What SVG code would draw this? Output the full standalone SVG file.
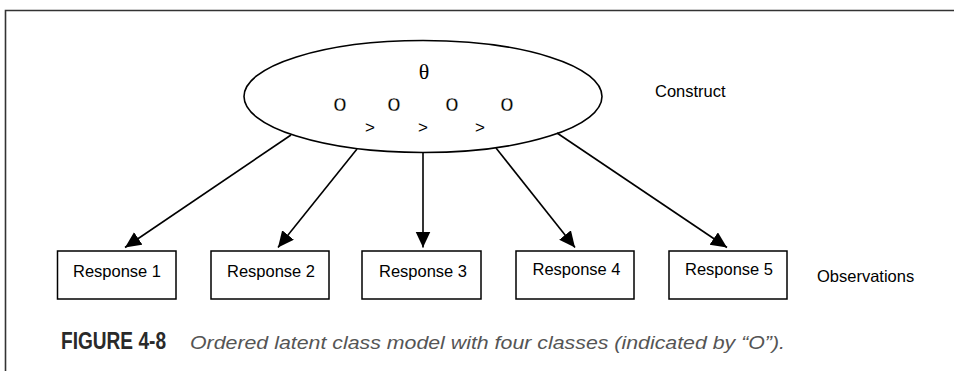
<svg xmlns="http://www.w3.org/2000/svg" width="954" height="371" viewBox="0 0 954 371">
<style>
.box{fill:#fff;stroke:#000;stroke-width:1.5}
.lbl{font-family:"Liberation Sans",Arial,sans-serif;font-size:16.5px;fill:#000}
.edge{stroke:#000;stroke-width:1.6;fill:none;marker-end:url(#ah)}
.cls{font-family:"Liberation Sans",Arial,sans-serif;font-size:24px;text-anchor:middle;fill:#000;stroke:#fff;stroke-width:0.3px}
.gt{font-family:"Liberation Sans",Arial,sans-serif;font-size:17px;text-anchor:middle;fill:#000}
</style>
<defs>
<marker id="ah" markerUnits="userSpaceOnUse" markerWidth="18" markerHeight="16" refX="16" refY="7.5" orient="auto">
<path d="M0,0 L16,7.5 L0,15 z" fill="#000"/>
</marker>
</defs>
<rect width="954" height="371" fill="#fff"/>
<g id="frame" fill="none" stroke="#333" stroke-width="1.6">
<path d="M954,10.5 H5.5 V371"/>
</g>
<g id="construct">
<ellipse cx="423" cy="96.5" rx="179" ry="56" fill="#fff" stroke="#000" stroke-width="1.6"/>
<text x="424" y="79" text-anchor="middle" font-family="Liberation Serif,serif" font-size="22">θ</text>
<text class="cls" x="340" y="111">o</text>
<text class="cls" x="394" y="111">o</text>
<text class="cls" x="452" y="111">o</text>
<text class="cls" x="507" y="111">o</text>
<text class="gt" x="370" y="133">&gt;</text>
<text class="gt" x="423" y="133">&gt;</text>
<text class="gt" x="480" y="133">&gt;</text>
</g>
<g id="connectors">
<line class="edge" x1="291" y1="135" x2="125" y2="247.5"/>
<line class="edge" x1="357" y1="149" x2="278" y2="247.5"/>
<line class="edge" x1="423" y1="152.5" x2="423" y2="247.5"/>
<line class="edge" x1="496" y1="148" x2="575" y2="247.5"/>
<line class="edge" x1="557" y1="133" x2="727" y2="247.5"/>
</g>
<g id="response1"><rect class="box" x="57.5" y="251" width="118.5" height="48"/><text class="lbl" x="117" y="277" text-anchor="middle">Response 1</text></g>
<g id="response2"><rect class="box" x="211" y="251" width="118" height="48"/><text class="lbl" x="271" y="277" text-anchor="middle">Response 2</text></g>
<g id="response3"><rect class="box" x="362" y="251" width="119" height="48"/><text class="lbl" x="423" y="277" text-anchor="middle">Response 3</text></g>
<g id="response4"><rect class="box" x="516" y="251" width="118" height="48"/><text class="lbl" x="576.5" y="275" text-anchor="middle">Response 4</text></g>
<g id="response5"><rect class="box" x="669" y="251" width="118" height="48"/><text class="lbl" x="729" y="275" text-anchor="middle">Response 5</text></g>
<g id="labels">
<text class="lbl" x="655" y="97">Construct</text>
<text class="lbl" x="817" y="282">Observations</text>
</g>
<g id="caption">
<text x="61" y="349" font-family="Liberation Sans Narrow,Liberation Sans,sans-serif" font-weight="bold" font-size="23" fill="#2a2a2a" textLength="105" lengthAdjust="spacingAndGlyphs">FIGURE 4-8</text>
<text x="190" y="349" font-family="Liberation Sans,Arial,sans-serif" font-style="italic" font-size="19" fill="#555" textLength="595" lengthAdjust="spacingAndGlyphs">Ordered latent class model with four classes (indicated by “O”).</text>
</g>
</svg>
